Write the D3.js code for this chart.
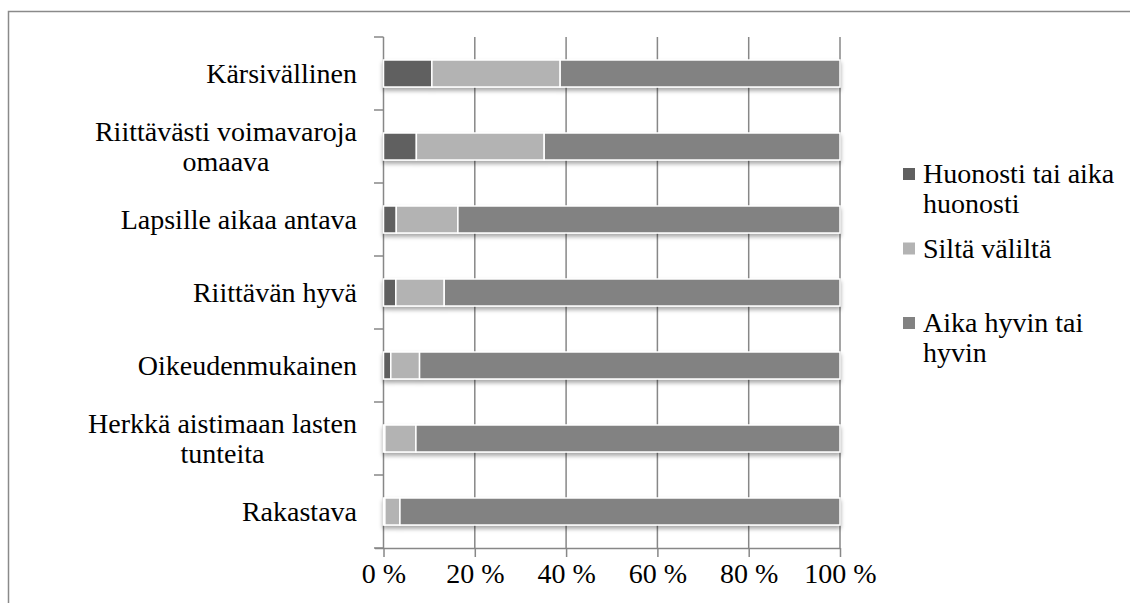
<!DOCTYPE html>
<html>
<head>
<meta charset="utf-8">
<script src="https://cdn.jsdelivr.net/npm/d3@7"></script>
<style>
  body { margin: 0; background: #fff; }
  text { font-family: "Liberation Serif", "DejaVu Serif", serif; fill: #000; }
</style>
</head>
<body>
<div id="chart"></div>
<script>
// categories, top to bottom
var categories = [
  "Kärsivällinen",
  "Riittävästi voimavaroja omaava",
  "Lapsille aikaa antava",
  "Riittävän hyvä",
  "Oikeudenmukainen",
  "Herkkä aistimaan lasten tunteita",
  "Rakastava"
];
var seriesNames = ["Huonosti tai aika huonosti", "Siltä väliltä", "Aika hyvin tai hyvin"];
// percentages
var huonosti = [10.6, 7.2, 2.8, 2.7, 1.6, 0.3, 0.3];
var siltaValilta = [28.1, 28.0, 13.5, 10.6, 6.3, 6.8, 3.3];
var hyvin = [61.3, 64.8, 83.7, 86.7, 92.1, 92.9, 96.4];
var tickValues = [0, 20, 40, 60, 80, 100];

var colors = ["#606060", "#b3b3b3", "#828282"];
var width = 1130, height = 603;
var fontSize = 28;

var rows = categories.map(function(c, i) {
  return { name: c, s0: huonosti[i], s1: siltaValilta[i], s2: hyvin[i] };
});

var svg = d3.select("#chart").append("svg")
  .attr("width", width)
  .attr("height", height);

var defs = svg.append("defs");
var shadow = defs.append("filter").attr("id", "shadow")
  .attr("x", "-5%").attr("y", "-30%").attr("width", "110%").attr("height", "180%");
shadow.append("feDropShadow")
  .attr("dx", 0).attr("dy", 3).attr("stdDeviation", 2)
  .attr("flood-color", "#000").attr("flood-opacity", 0.35);

// outer frame (runs off the right and bottom of the picture)
svg.append("path")
  .attr("d", "M8.5," + height + "V11.5H" + width)
  .attr("fill", "none")
  .attr("stroke", "#8a8a8a")
  .attr("stroke-width", 1.5);

var x = d3.scaleLinear().domain([0, 100]).range([383.5, 840]);
var y = d3.scaleBand().domain(categories).range([37, 548]);
var barH = y.bandwidth() * 0.37;

// gridlines
svg.append("g").selectAll("line")
  .data(tickValues.slice(1))
  .enter().append("line")
  .attr("x1", function(d) { return x(d); })
  .attr("x2", function(d) { return x(d); })
  .attr("y1", y.range()[0])
  .attr("y2", y.range()[1])
  .attr("stroke", "#878787")
  .attr("stroke-width", 1.5);

// x axis
var xAxis = svg.append("g")
  .attr("transform", "translate(0," + y.range()[1] + ")")
  .call(d3.axisBottom(x).tickValues(tickValues).tickSize(9).tickSizeOuter(0)
    .tickFormat(function(d) { return d + " %"; }));
xAxis.select(".domain").attr("stroke", "#878787").attr("stroke-width", 1.5)
  .attr("d", "M375," + 0.5 + "H" + x(100));
xAxis.selectAll(".tick line").attr("stroke", "#878787").attr("stroke-width", 1.5);
xAxis.selectAll(".tick text")
  .attr("y", 35)
  .attr("dy", 0)
  .style("font-size", fontSize + "px")
  .style("font-family", "Liberation Serif, serif")
  .attr("fill", "#000");

// y axis: line plus ticks at band edges
var edges = categories.map(function(c) { return y(c); }).concat([y.range()[1]]);
var yAxis = svg.append("g");
yAxis.append("line")
  .attr("x1", x(0)).attr("x2", x(0))
  .attr("y1", y.range()[0]).attr("y2", y.range()[1])
  .attr("stroke", "#878787").attr("stroke-width", 1.5);
yAxis.selectAll(".edge")
  .data(edges)
  .enter().append("line")
  .attr("class", "edge")
  .attr("x1", 374).attr("x2", x(0))
  .attr("y1", function(d) { return d; })
  .attr("y2", function(d) { return d; })
  .attr("stroke", "#878787").attr("stroke-width", 1.5);

// stacked bars
var stack = d3.stack().keys(["s0", "s1", "s2"]);
var stacked = stack(rows);

var barGroups = svg.append("g").selectAll("g")
  .data(categories)
  .enter().append("g")
  .attr("filter", "url(#shadow)");

barGroups.each(function(cat, i) {
  var g = d3.select(this);
  stacked.forEach(function(layer, k) {
    var d = layer[i];
    if (d[1] - d[0] <= 0) return;
    g.append("rect")
      .attr("x", x(d[0]))
      .attr("width", x(d[1]) - x(d[0]))
      .attr("y", y(cat) + (y.bandwidth() - barH) / 2)
      .attr("height", barH)
      .attr("fill", colors[k])
      .attr("stroke", "#fff")
      .attr("stroke-width", 1.5);
  });
});

// wraps text into lines no wider than maxW
function wrapLines(textSel, str, maxW) {
  var words = str.split(" ");
  var lines = [];
  var cur = [];
  var probe = textSel.append("tspan");
  words.forEach(function(w) {
    cur.push(w);
    probe.text(cur.join(" "));
    if (probe.node().getComputedTextLength() > maxW && cur.length > 1) {
      cur.pop();
      lines.push(cur.join(" "));
      cur = [w];
    }
  });
  lines.push(cur.join(" "));
  probe.remove();
  return lines;
}

// category labels, block right aligned, lines centred on each other
var lineH = 30;
categories.forEach(function(cat) {
  var t = svg.append("text").style("font-size", fontSize + "px");
  var lines = wrapLines(t, cat, 305);
  var cy = y(cat) + y.bandwidth() / 2 + 9;
  var base0 = cy - (lines.length - 1) * lineH / 2;
  var tsp = lines.map(function(l, j) {
    return t.append("tspan").attr("y", base0 + j * lineH).text(l);
  });
  var widest = d3.max(tsp, function(s) { return s.node().getComputedTextLength(); });
  var mid = 357 - widest / 2;
  tsp.forEach(function(s) { s.attr("x", mid).attr("text-anchor", "middle"); });
});

// legend
var legend = svg.append("g");
seriesNames.forEach(function(name, k) {
  var top = 168 + k * 74.5;
  legend.append("rect")
    .attr("x", 903).attr("y", top)
    .attr("width", 12).attr("height", 12)
    .attr("fill", colors[k]);
  var t = legend.append("text").style("font-size", fontSize + "px");
  var lines = wrapLines(t, name, 200);
  lines.forEach(function(l, j) {
    t.append("tspan").attr("x", 923).attr("y", top + 15 + j * lineH).text(l);
  });
});
</script>
</body>
</html>
